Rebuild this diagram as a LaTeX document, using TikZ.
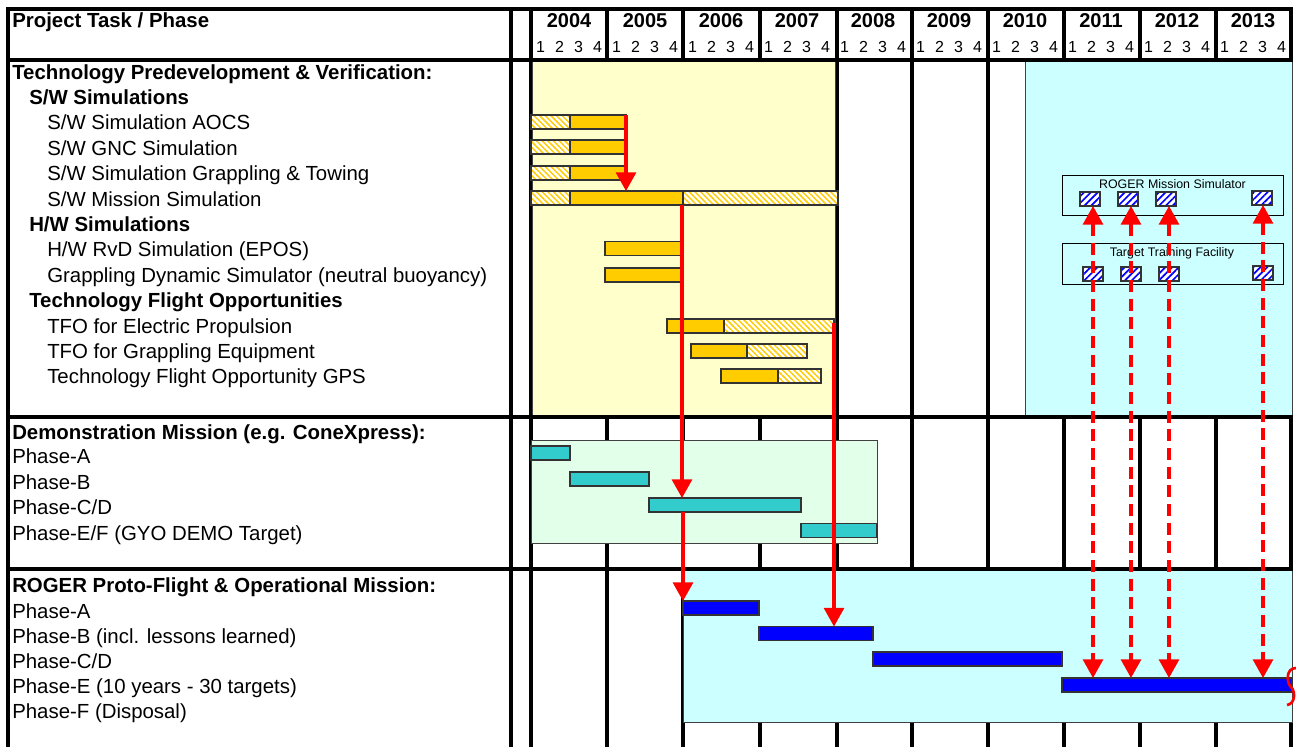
\documentclass[tikz,border=0pt]{standalone}
\usepackage{fontspec}
\setmainfont{Liberation Sans}
\usepackage{tikz}
\usetikzlibrary{arrows.meta,patterns.meta}

\newlength\pxu
\setlength\pxu{0.75pt}

\definecolor{barGold}{HTML}{FFCC00}
\definecolor{barTeal}{HTML}{33CCCC}
\definecolor{areaYellow}{HTML}{FFFFCC}
\definecolor{areaCyan}{HTML}{CCFFFF}
\definecolor{areaGreen}{HTML}{E2FFEA}

\tikzset{
    gridline/.style={line width=3pt},
    area/.style={draw=black!75, line width=0.75pt},
    txt/.style={anchor=base west, inner sep=0pt, font=\fontsize{15.3}{18}\selectfont},
    txtb/.style={txt, font=\fontsize{15.3}{18}\selectfont\bfseries},
    yearlbl/.style={anchor=base, inner sep=0pt, font=\fontsize{15}{18}\selectfont\bfseries},
    qlbl/.style={anchor=base, inner sep=0pt, font=\fontsize{12}{14}\selectfont},
    boxlbl/.style={inner sep=0pt, font=\fontsize{9.3}{11}\selectfont},
    bar/.style={anchor=west, draw=black!80, line width=0.9pt, inner sep=0pt, outer sep=0pt, minimum height=14\pxu},
    goldbar/.style={bar, fill=barGold},
    hatchbar/.style={bar, preaction={fill=white}, pattern={Lines[angle=-45,distance=3pt,line width=1.1pt]}, pattern color=barGold},
    demobar/.style={bar, fill=barTeal},
    rogerbar/.style={bar, fill=blue},
    simcell/.style={bar, anchor=center, minimum width=20\pxu, preaction={fill=white}, pattern={Lines[angle=45,distance=3.6pt,line width=1.3pt]}, pattern color=blue},
    simframe/.style={draw=black, line width=0.75pt, inner sep=0pt, outer sep=0pt, anchor=north west},
    link/.style={draw=red, line width=2.3pt, ->},
    dlink/.style={link, <->, dash pattern=on 9pt off 5pt},
}

\begin{document}
\begin{tikzpicture}[x=0.75pt, y=-0.75pt, >={Triangle[width=15pt,length=14pt]}]
    \useasboundingbox (0,0) rectangle (1296,747);
    \fill[white] (0,0) rectangle (1296,747);

    % table grid
    \foreach \gx in {8,511,531,607,683,760,836.5,912,988,1064,1140,1216,1291}
        \draw[gridline] (\gx,7) -- (\gx,747);

    % shaded phases
    \draw[area, fill=areaYellow] (532,61) rectangle (835,415);
    \draw[area, fill=areaCyan] (1025,61) rectangle (1292,415);
    \draw[area, fill=areaGreen] (531,440) rectangle (877,543);
    \draw[area, fill=areaCyan] (683,570) rectangle (1292,722);

    \foreach \gy in {8.5,59.5,416.5,568.5}
        \draw[gridline] (6.5,\gy) -- (1292.5,\gy);

    % header
    \node[txtb] (hdr) at (12,27) {Project Task / Phase};
    \foreach \yr [count=\i from 0] in {2004,...,2013} {
        \node[yearlbl] (y\yr) at ({569+76*\i},27) {\yr};
        \foreach \q in {1,...,4}
            \node[qlbl] (q\yr\q) at ({531+76*\i+19*\q-9.5},52.5) {\q};
    }

    % task names
    \node[txtb] (tpv) at (12,79) {Technology Predevelopment \& Verification:};
    \node[txtb] (sws) at (29,104.4) {S/W Simulations};
    \node[txt] (aocs) at (47,129.8) {S/W Simulation AOCS};
    \node[txt] (gnc) at (47,155.2) {S/W GNC Simulation};
    \node[txt] (gt) at (47,180.6) {S/W Simulation Grappling \& Towing};
    \node[txt] (mis) at (47,206) {S/W Mission Simulation};
    \node[txtb] (hws) at (29,231.4) {H/W Simulations};
    \node[txt] (rvd) at (47,256.8) {H/W RvD Simulation (EPOS)};
    \node[txt] (gds) at (47,282.2) {Grappling Dynamic Simulator (neutral buoyancy)};
    \node[txtb] (tfo) at (29,307.6) {Technology Flight Opportunities};
    \node[txt] (ep) at (47,333) {TFO for Electric Propulsion};
    \node[txt] (ge) at (47,358.4) {TFO for Grappling Equipment};
    \node[txt] (gps) at (47,383.8) {Technology Flight Opportunity GPS};

    \node[txtb] (demo) at (12,439) {Demonstration Mission (e.g. ConeXpress):};
    \node[txt] (demoA) at (12,463.7) {Phase-A};
    \node[txt] (demoB) at (12,489) {Phase-B};
    \node[txt] (demoCD) at (12,514.7) {Phase-C/D};
    \node[txt] (demoEF) at (12,540) {Phase-E/F (GYO DEMO Target)};

    \node[txtb] (roger) at (12,592) {ROGER Proto-Flight \& Operational Mission:};
    \node[txt] (rogerA) at (12,618) {Phase-A};
    \node[txt] (rogerB) at (12,643.7) {Phase-B (incl. lessons learned)};
    \node[txt] (rogerCD) at (12,668.7) {Phase-C/D};
    \node[txt] (rogerE) at (12,693.7) {Phase-E (10 years - 30 targets)};
    \node[txt] (rogerF) at (12,718.7) {Phase-F (Disposal)};

    % technology bars
    \node[hatchbar, minimum width=39\pxu] (aocs1) at (531,122) {};
    \node[goldbar, minimum width=56\pxu] (aocs2) at (570,122) {};
    \node[hatchbar, minimum width=39\pxu] (gnc1) at (531,147) {};
    \node[goldbar, minimum width=56\pxu] (gnc2) at (570,147) {};
    \node[hatchbar, minimum width=39\pxu] (gt1) at (531,173) {};
    \node[goldbar, minimum width=56\pxu] (gt2) at (570,173) {};
    \node[hatchbar, minimum width=39\pxu] (mis1) at (531,198) {};
    \node[goldbar, minimum width=113\pxu] (mis2) at (570,198) {};
    \node[hatchbar, minimum width=155\pxu] (mis3) at (683,198) {};
    \node[goldbar, minimum width=76\pxu] (rvd1) at (605,248.5) {};
    \node[goldbar, minimum width=76\pxu] (gds1) at (605,275) {};
    \node[goldbar, minimum width=57\pxu] (ep1) at (667,326) {};
    \node[hatchbar, minimum width=110\pxu] (ep2) at (724,326) {};
    \node[goldbar, minimum width=56\pxu] (ge1) at (691,351) {};
    \node[hatchbar, minimum width=60\pxu] (ge2) at (747,351) {};
    \node[goldbar, minimum width=57\pxu] (gps1) at (721,376) {};
    \node[hatchbar, minimum width=43\pxu] (gps2) at (778,376) {};

    % demonstration bars
    \node[demobar, minimum width=39\pxu] (da) at (531,453) {};
    \node[demobar, minimum width=79\pxu] (db) at (570,479) {};
    \node[demobar, minimum width=152\pxu] (dcd) at (649,505) {};
    \node[demobar, minimum width=76\pxu] (def) at (801,530.5) {};

    % ROGER bars
    \node[rogerbar, minimum width=76\pxu] (ra) at (683,608) {};
    \node[rogerbar, minimum width=114\pxu] (rb) at (759,633.5) {};
    \node[rogerbar, minimum width=189\pxu] (rcd) at (873,659) {};
    \node[rogerbar, minimum width=230\pxu] (re) at (1062,685) {};

    % simulator and training facility
    \node[simframe, minimum width=221\pxu, minimum height=40\pxu] (simbox) at (1062,175) {};
    \node[boxlbl] (simtxt) at (1172.5,184) {ROGER Mission Simulator};
    \node[simcell] (sim1) at (1090,199) {};
    \node[simcell] (sim2) at (1128,199) {};
    \node[simcell] (sim3) at (1166,199) {};
    \node[simcell] (sim4) at (1262,198) {};

    \node[simframe, minimum width=221\pxu, minimum height=41\pxu] (ttfbox) at (1062,243) {};
    \node[boxlbl] (ttftxt) at (1172,253) {Target Training Facility};
    \node[simcell] (ttf1) at (1093,274) {};
    \node[simcell] (ttf2) at (1131,274) {};
    \node[simcell] (ttf3) at (1169,274) {};
    \node[simcell] (ttf4) at (1263,273) {};

    % dependencies
    \draw[link] (aocs2.north east) -- (aocs2.north east |- mis2.north);
    \draw[link] ([xshift=-1\pxu]mis2.south east) -- ([xshift=-1\pxu]mis2.south east |- dcd.north);
    \draw[link] (ra.north west |- dcd.south) -- (ra.north west);
    \draw[link] ([yshift=3\pxu]ep2.east) -- (ep2.east |- rb.north);

    \draw[dlink] (ttf1 |- sim1.south) -- (ttf1 |- re.north);
    \draw[dlink] (ttf2 |- sim2.south) -- (ttf2 |- re.north);
    \draw[dlink] (ttf3 |- sim3.south) -- (ttf3 |- re.north);
    \draw[dlink] (ttf4 |- sim4.south) -- (ttf4 |- re.north);

    % open end of phase E
    \draw[red, line width=2pt] (1296,668) .. controls (1286,668) and (1286,682) .. (1291,687) .. controls (1296,692) and (1295,704) .. (1287,705);
\end{tikzpicture}
\end{document}
